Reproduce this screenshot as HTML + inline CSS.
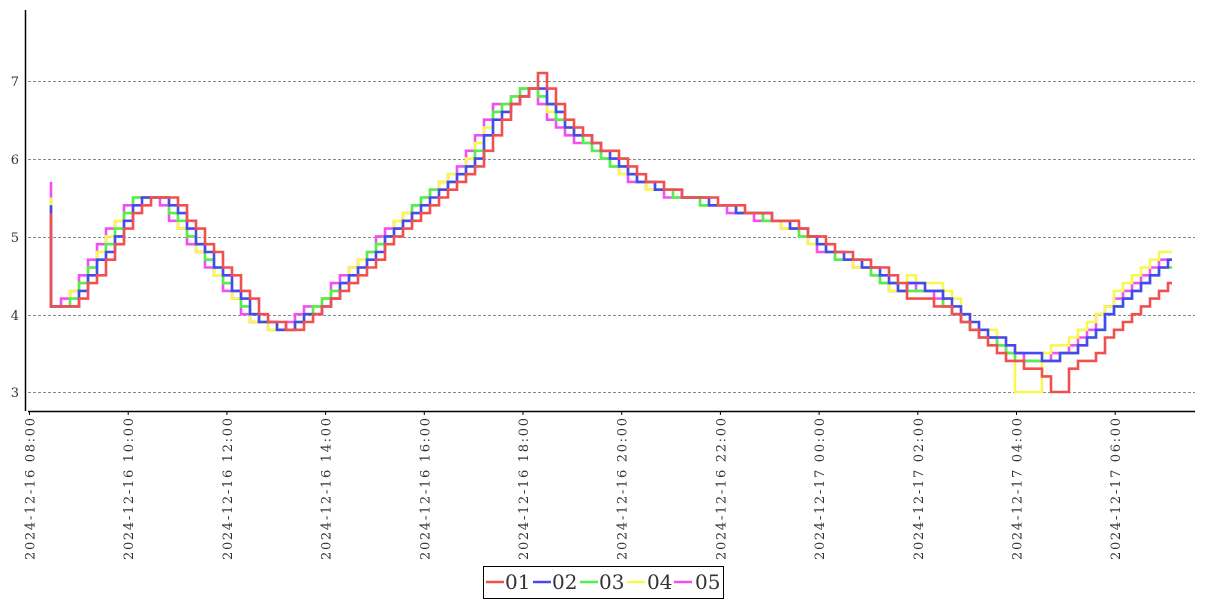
<!DOCTYPE html>
<html><head><meta charset="utf-8"><style>
html,body{margin:0;padding:0;background:#fff;}
svg{display:block;font-family:"DejaVu Serif","Liberation Serif",serif;}
.xl{white-space:pre;}
</style></head><body>
<svg id="s" width="1207" height="600" xmlns="http://www.w3.org/2000/svg">
<g stroke="#888" stroke-dasharray="3,2" stroke-width="1">
<line x1="28" x2="1195" y1="81.5" y2="81.5"/>
<line x1="28" x2="1195" y1="159.5" y2="159.5"/>
<line x1="28" x2="1195" y1="237.5" y2="237.5"/>
<line x1="28" x2="1195" y1="315.5" y2="315.5"/>
<line x1="28" x2="1195" y1="392.5" y2="392.5"/>
</g>
<g font-size="13" fill="#333" text-anchor="end">
<text x="19" y="86">7</text><text x="19" y="164">6</text><text x="19" y="242">5</text><text x="19" y="320">4</text><text x="19" y="397">3</text>
</g>
<g id="series" fill="none" stroke-width="2.6" stroke-linejoin="miter"></g>
<line x1="25.5" y1="10" x2="25.5" y2="411" stroke="#000" stroke-width="1.5"/>
<line x1="28" y1="411.5" x2="1195" y2="411.5" stroke="#000" stroke-width="1.5"/>
<g id="xt" font-size="13" fill="#333"></g>
<rect x="483.5" y="566.5" width="240" height="32" fill="#fff" stroke="#000"/>
<g font-size="20" fill="#333">
<line x1="486" x2="504" y1="582" y2="582" stroke="#f05050" stroke-width="2.6"/><text x="505" y="589">01</text>
<line x1="533" x2="551" y1="582" y2="582" stroke="#4848f0" stroke-width="2.6"/><text x="552" y="589">02</text>
<line x1="580" x2="598" y1="582" y2="582" stroke="#50f050" stroke-width="2.6"/><text x="599" y="589">03</text>
<line x1="627" x2="645" y1="582" y2="582" stroke="#f8f850" stroke-width="2.6"/><text x="647" y="589">04</text>
<line x1="674" x2="692" y1="582" y2="582" stroke="#f050f0" stroke-width="2.6"/><text x="695" y="589">05</text>
</g>
</svg>
<script>
var NS="http://www.w3.org/2000/svg";
var labels=["2024-12-16 08:00","2024-12-16 10:00","2024-12-16 12:00","2024-12-16 14:00","2024-12-16 16:00","2024-12-16 18:00","2024-12-16 20:00","2024-12-16 22:00","2024-12-17 00:00","2024-12-17 02:00","2024-12-17 04:00","2024-12-17 06:00"];
var xt=document.getElementById("xt");
for(var i=0;i<labels.length;i++){
 var x=29.5+i*98.7;
 var l=document.createElementNS(NS,"line");l.setAttribute("x1",x);l.setAttribute("x2",x);l.setAttribute("y1",411);l.setAttribute("y2",415);l.setAttribute("stroke","#000");xt.appendChild(l);
 var t=document.createElementNS(NS,"text");t.setAttribute("class","xl");t.setAttribute("transform","translate("+(x+5)+",418) rotate(-90)");t.setAttribute("text-anchor","end");t.setAttribute("textLength","142");t.setAttribute("lengthAdjust","spacing");t.textContent=labels[i];xt.appendChild(t);
}
var kp=[[52,4.1],[70,4.1],[140,5.5],[165,5.5],[200,4.9],[260,3.9],[290,3.8],[330,4.2],[420,5.4],[470,5.9],[500,6.6],[528,6.9],[540,6.9],[560,6.5],[600,6.1],[630,5.8],[660,5.6],[720,5.4],[780,5.2],[810,5.0],[830,4.8],[870,4.6],[900,4.3],[940,4.2],[980,3.7],[1020,3.4],[1050,3.3],[1080,3.5],[1110,3.9],[1140,4.3],[1172,4.6]];
function f(x){if(x<=kp[0][0])return kp[0][1];for(var i=1;i<kp.length;i++){if(x<=kp[i][0]){var a=kp[i-1],b=kp[i];return a[1]+(b[1]-a[1])*(x-a[0])/(b[0]-a[0]);}}return kp[kp.length-1][1];}
function Y(v){return 392-(v-3)*77.8;}
var ser=[["#f050f0",-9,5.7,0.1],["#f8f850",-6,5.5,0.2],["#50f050",-4,5.4,0.05],["#4848f0",-1,5.4,0.1],["#f05050",4,5.3,-0.1]];
var g=document.getElementById("series");
ser.forEach(function(s){
 var d="M51,"+Y(s[2]).toFixed(1)+" L51,"+Y(4.1).toFixed(1);
 var prev=4.1;
 for(var x=52;x<=1172;x+=9){
  var v=f(x-s[1]*1.3);
  if(x>900)v+=s[3];
  if(s[0]=="#f05050"&&x>1045&&x<1068)v=3.0;
  if(s[0]=="#f8f850"&&x>1014&&x<1035)v=3.0;
  if(s[0]=="#f05050"&&x>536&&x<543)v=7.1;
  v=Math.round(v*10)/10;
  if(v!==prev){d+=" L"+x+","+Y(prev).toFixed(1)+" L"+x+","+Y(v).toFixed(1);prev=v;}
 }
 d+=" L1172,"+Y(prev).toFixed(1);
 var p=document.createElementNS(NS,"path");p.setAttribute("d",d);p.setAttribute("stroke",s[0]);p.setAttribute("fill","none");p.setAttribute("stroke-width","2.6");
 g.appendChild(p);
});
</script>
</body></html>
